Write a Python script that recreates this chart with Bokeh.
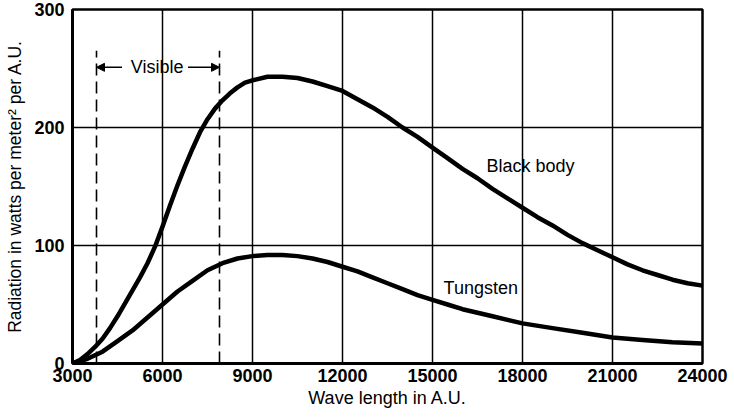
from bokeh.plotting import figure
from bokeh.models import FixedTicker, Arrow, NormalHead, Label
from bokeh.embed import file_html
from bokeh.resources import INLINE

# ---- data ----
wavelength_bb = [3000, 3250, 3500, 3750, 4000, 4250, 4500, 4750, 5000, 5250, 5500, 5750,
                 6000, 6250, 6500, 6750, 7000, 7250, 7500, 7750, 8000, 8250, 8500, 8750,
                 9000, 9500, 10000, 10500, 11000, 11500, 12000, 12500, 13000, 13500, 14000,
                 14500, 15000, 15500, 16000, 16500, 17000, 17500, 18000, 18500, 19000, 19500,
                 20000, 20500, 21000, 21500, 22000, 22500, 23000, 23500, 24000]
black_body = [0, 3, 8, 14, 21, 30, 40, 51, 62, 73, 85, 99,
              116, 134, 151, 167, 182, 196, 207, 216, 223, 229, 234, 238,
              240, 243, 243, 242, 239, 235, 231, 224, 217, 209, 200,
              192, 183, 174, 165, 157, 148, 140, 132, 124, 117, 109,
              102, 96, 90, 84, 79, 75, 71, 68, 66]

wavelength_w = [3000, 3500, 4000, 4500, 5000, 5500, 6000, 6500, 7000, 7500, 8000, 8500,
                9000, 9500, 10000, 10500, 11000, 11500, 12000, 12500, 13000, 13500, 14000,
                14500, 15000, 15500, 16000, 16500, 17000, 17500, 18000, 19000, 20000, 21000,
                22000, 23000, 24000]
tungsten = [0, 4, 10, 19, 28, 39, 50, 61, 70, 79, 85, 89,
            91, 92, 92, 91, 89, 86, 82, 78, 73, 68, 63,
            58, 54, 50, 46, 43, 40, 37, 34, 30, 26, 22,
            20, 18, 17]

visible_range = [3800, 7900]
visible_top = 265
x_ticks = [3000, 6000, 9000, 12000, 15000, 18000, 21000, 24000]
y_ticks = [0, 100, 200, 300]

FONT = "Liberation Sans"

p = figure(width=730, height=410, x_range=(3000, 24000), y_range=(0, 300),
           output_backend="svg", toolbar_location=None,
           min_border_left=72, min_border_right=28, min_border_top=9, min_border_bottom=44)
p.background_fill_color = "white"
p.border_fill_color = "white"
p.outline_line_color = "black"
p.outline_line_width = 2.5

for ax in (p.xaxis[0], p.yaxis[0]):
    ax.major_tick_line_color = None
    ax.minor_tick_line_color = None
    ax.major_tick_in = 0
    ax.major_tick_out = 0
    ax.minor_tick_in = 0
    ax.minor_tick_out = 0
    ax.axis_line_color = "black"
    ax.axis_line_width = 3
    ax.major_label_text_font = FONT
    ax.major_label_text_font_size = "18px"
    ax.major_label_text_font_style = "bold"
    ax.major_label_text_color = "black"
    ax.axis_label_text_font = FONT
    ax.axis_label_text_font_style = "normal"
    ax.axis_label_text_color = "black"

p.xaxis.axis_label_text_font_size = "18px"
p.yaxis.axis_label_text_font_size = "17.5px"
p.xaxis.ticker = FixedTicker(ticks=x_ticks)
p.yaxis.ticker = FixedTicker(ticks=y_ticks)
p.xaxis.major_label_standoff = 5
p.yaxis.major_label_standoff = 8
p.xaxis.axis_label = "Wave length in A.U."
p.yaxis.axis_label = "Radiation in watts per meter\u00b2 per A.U."
p.xaxis.axis_label_standoff = 3
p.yaxis.axis_label_standoff = 6

p.xgrid.grid_line_color = "black"
p.ygrid.grid_line_color = "black"
p.xgrid.grid_line_width = 1.5
p.ygrid.grid_line_width = 1.5
p.xgrid.grid_line_alpha = 1
p.ygrid.grid_line_alpha = 1

# curves
p.line(wavelength_bb, black_body, line_color="black", line_width=4.5, line_join="round")
p.line(wavelength_w, tungsten, line_color="black", line_width=4.5, line_join="round")

# visible range dashed lines
p.segment(x0=visible_range, y0=[0, 0], x1=visible_range, y1=[visible_top, visible_top],
          line_color="black", line_width=1.6, line_dash="12 6")

label_y = 251
mid = sum(visible_range) / 2 - 30
p.add_layout(Label(x=mid, y=label_y, text="Visible", text_font=FONT, text_font_size="18px",
                   text_align="center", text_baseline="middle", text_color="black"))
p.add_layout(Arrow(x_start=visible_range[0] + 850, y_start=label_y, x_end=visible_range[0],
                   y_end=label_y, line_width=1.5, line_color="black",
                   end=NormalHead(size=8, fill_color="black", line_color="black")))
p.add_layout(Arrow(x_start=visible_range[1] - 1050, y_start=label_y, x_end=visible_range[1],
                   y_end=label_y, line_width=1.5, line_color="black",
                   end=NormalHead(size=8, fill_color="black", line_color="black")))

p.add_layout(Label(x=16800, y=167, text="Black body", text_font=FONT, text_font_size="18px",
                   text_align="left", text_baseline="middle", text_color="black"))
p.add_layout(Label(x=15370, y=64, text="Tungsten", text_font=FONT, text_font_size="18px",
                   text_align="left", text_baseline="middle", text_color="black"))

open("out.html", "w").write(file_html(p, INLINE))
